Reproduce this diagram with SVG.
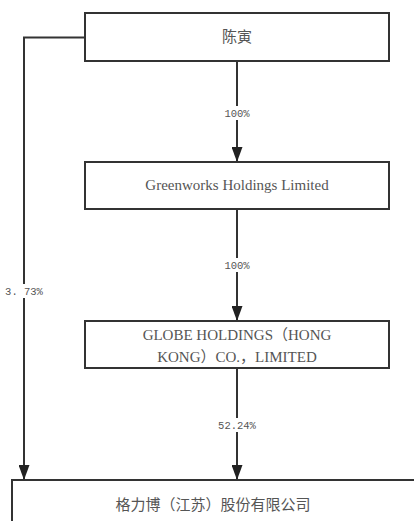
<svg xmlns="http://www.w3.org/2000/svg" width="414" height="521" viewBox="0 0 414 521">
<defs>
<marker id="arr" markerWidth="15" markerHeight="11" refX="15" refY="5.5" orient="auto" markerUnits="userSpaceOnUse" viewBox="0 0 15 11">
<path d="M0,0 L15,5.5 L0,11 Z" fill="#222"/>
</marker>
<style>
.box{fill:#fff;stroke:#333;stroke-width:2}
.t{font-family:"Liberation Serif","Noto Sans CJK SC",serif;font-size:15px;fill:#555;text-anchor:middle}
.lbl{font-family:"Liberation Mono","Noto Sans CJK SC",monospace;font-size:10.5px;fill:#555;text-anchor:middle}
.ln{fill:none;stroke:#333;stroke-width:2}
.bg{fill:#fff}
</style>
</defs>
<rect width="414" height="521" fill="#fff"/>
<g id="connectors">
<path class="ln" d="M85,37.5 H24 V480" marker-end="url(#arr)"/>
<path class="ln" d="M237,61 V162" marker-end="url(#arr)"/>
<path class="ln" d="M237,209 V321" marker-end="url(#arr)"/>
<path class="ln" d="M237,368 V480" marker-end="url(#arr)"/>
<rect class="bg" x="222" y="106" width="30" height="14"/>
<text class="lbl" x="237" y="117">100%</text>
<rect class="bg" x="222" y="258" width="30" height="14"/>
<text class="lbl" x="237" y="269">100%</text>
<rect class="bg" x="217" y="418" width="40" height="14"/>
<text class="lbl" x="237" y="429">52.24%</text>
<rect class="bg" x="6" y="284" width="36" height="14"/>
<text class="lbl" x="24" y="295">3. 73%</text>
</g>
<g id="node-chenyin">
<rect class="box" x="85" y="13" width="304" height="48"/>
<text class="t" x="237" y="42">陈寅</text>
</g>
<g id="node-greenworks">
<rect class="box" x="85" y="162" width="304" height="47"/>
<text class="t" x="237" y="190">Greenworks Holdings Limited</text>
</g>
<g id="node-globe">
<rect class="box" x="85" y="321" width="304" height="47"/>
<text class="t" x="237" y="340">GLOBE HOLDINGS（HONG</text>
<text class="t" x="237" y="362">KONG）CO.，LIMITED</text>
</g>
<g id="node-greenworks-jiangsu">
<rect class="box" x="12" y="480" width="420" height="60"/>
<text class="t" x="213" y="510">格力博（江苏）股份有限公司</text>
</g>
</svg>
